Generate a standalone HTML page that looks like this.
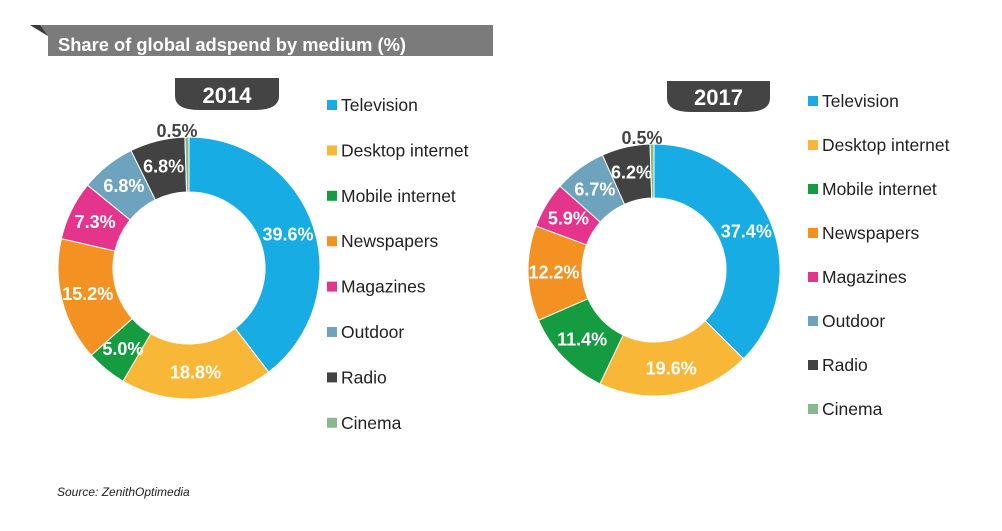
<!DOCTYPE html>
<html><head><meta charset="utf-8"><style>
body{margin:0;background:#fff;}
svg{display:block;font-family:"Liberation Sans",sans-serif;}
</style></head><body>
<svg id="c" width="1002" height="531" viewBox="0 0 1002 531">
<polygon points="30,25 493,25 493,56 48,56 48,36" fill="#7b7b7b"/>
<polygon points="30,25 40,25 48,36" fill="#3a3a3a"/>
<text x="58" y="51" fill="#fff" font-size="18" font-weight="bold" textLength="348" lengthAdjust="spacingAndGlyphs">Share of global adspend by medium (%)</text>
<text x="57" y="496" fill="#222" font-size="12" font-style="italic">Source: ZenithOptimedia</text>
<g id="g"></g>
</svg>
<script>
const categories=["Television","Desktop internet","Mobile internet","Newspapers","Magazines","Outdoor","Radio","Cinema"];
const colors=["#17ace3","#f8b737","#159b40","#f39222","#e4348b","#6ea3be","#424243","#85ba8c"];
const years=["2014","2017"];
const values2014=[39.6,18.8,5.0,15.2,7.3,6.8,6.8,0.5];
const values2017=[37.4,19.6,11.4,12.2,5.9,6.7,6.2,0.5];
const series=[values2014,values2017];
const NS="http://www.w3.org/2000/svg";
const g=document.getElementById('g');
function mk(t,a){const e=document.createElementNS(NS,t);for(const k in a)e.setAttribute(k,a[k]);g.appendChild(e);return e;}
const layouts=[
 {cx:189,cy:268,R:131,r:76,tab:[175,78,104,32],lx:327,ly:105,step:45.4},
 {cx:654,cy:270,R:126,r:72,tab:[667,81,103,31],lx:808,ly:101,step:44}
];
function pt(cx,cy,rad,ang){return [cx+rad*Math.sin(ang),cy-rad*Math.cos(ang)];}
layouts.forEach((L,i)=>{
 const vals=series[i];const tot=vals.reduce((a,b)=>a+b,0);
 let a0=0;
 vals.forEach((v,j)=>{
  const a1=a0+v/tot*2*Math.PI;
  const [x0,y0]=pt(L.cx,L.cy,L.R,a0),[x1,y1]=pt(L.cx,L.cy,L.R,a1);
  const [x2,y2]=pt(L.cx,L.cy,L.r,a1),[x3,y3]=pt(L.cx,L.cy,L.r,a0);
  const lg=(a1-a0)>Math.PI?1:0;
  const p=mk('path',{d:`M${x0},${y0}A${L.R},${L.R} 0 ${lg} 1 ${x1},${y1}L${x2},${y2}A${L.r},${L.r} 0 ${lg} 0 ${x3},${y3}Z`,fill:colors[j],stroke:'#fff','stroke-width':1});
  
  
  const mid=(a0+a1)/2;
  let lx,ly,fill='#fff';
  if(v<2){[lx,ly]=[L.cx-12,L.cy-L.R-6];fill='#444';}
  else{[lx,ly]=pt(L.cx,L.cy,(L.R+L.r)/2+1,mid);}
  const t=mk('text',{x:lx,y:ly+6,'text-anchor':'middle','font-size':18,'font-weight':'bold',fill:fill});
  t.textContent=v.toFixed(1)+'%';
  
  
  a0=a1;
 });
 const [tx,ty,tw,th]=L.tab;
 const tab=mk('path',{d:`M${tx},${ty}H${tx+tw}V${ty+th-14}Q${tx+tw},${ty+th} ${tx+tw-24},${ty+th}H${tx+24}Q${tx},${ty+th} ${tx},${ty+th-14}Z`,fill:'#444'});
 
 
 const tt=mk('text',{x:tx+tw/2,y:ty+th-7,'text-anchor':'middle','font-size':22,'font-weight':'bold',fill:'#fff'});
 tt.textContent=years[i];
 
 
 categories.forEach((c,j)=>{
  const y=L.ly+j*L.step;
  const s=mk('rect',{x:L.lx,y:y-5,width:10,height:10,fill:colors[j]});
  
  
  const lt=mk('text',{x:L.lx+14,y:y+6,'font-size':17.5,fill:'#222'});
  lt.textContent=c;
  
  
 });
});
</script>
</body></html>
